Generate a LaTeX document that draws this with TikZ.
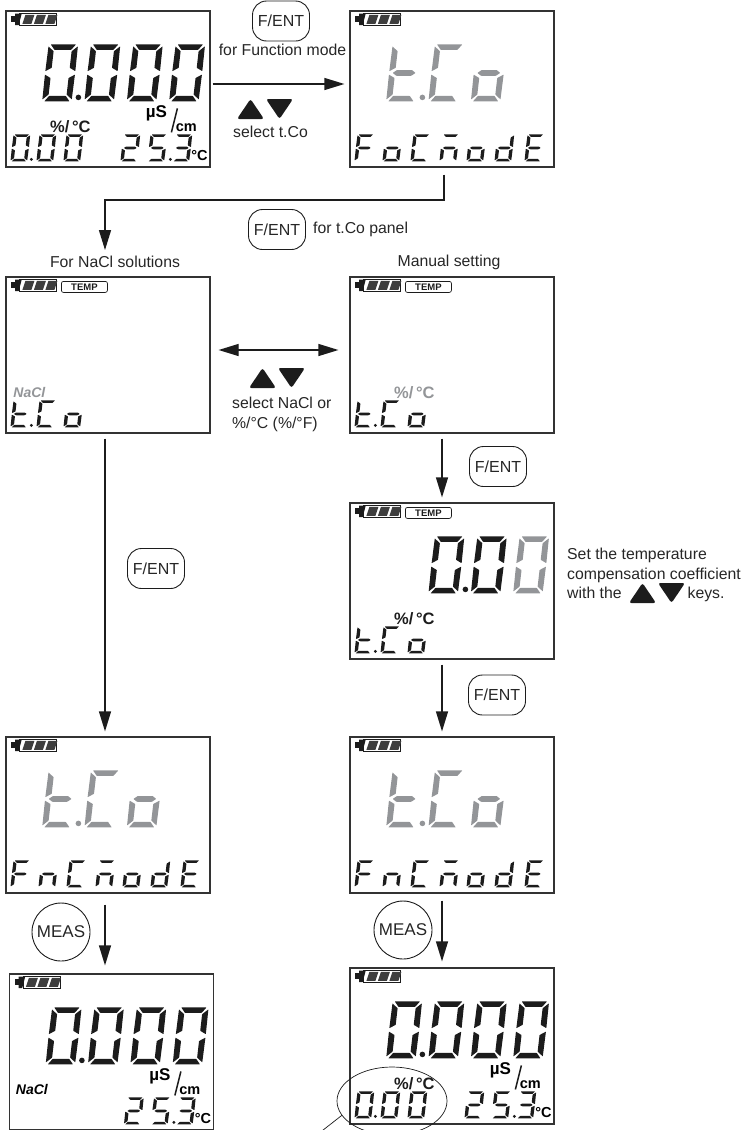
\documentclass[tikz,border=0pt]{standalone}
\usepackage{fontspec}
\setmainfont{Liberation Sans}
\usetikzlibrary{
  positioning,
  shapes.geometric,
  arrows.meta,
}
\definecolor{border}{HTML}{333333}
\definecolor{lcdOn}{HTML}{1C1C1C}
\definecolor{lcdDim}{HTML}{939598}
\definecolor{textMain}{HTML}{262626}
\tikzset{
  lcdpanel/.style={
    rectangle, draw=border, line width=1.2pt, inner sep=0pt,
    minimum width=204pt, minimum height=156pt,
  },
  tempbox/.style={
    rectangle, rounded corners=2pt, draw=lcdOn, line width=0.7pt, inner sep=0pt,
    minimum width=46pt, minimum height=11pt, text=lcdOn,
    font=\fontsize{9.5}{10}\selectfont\bfseries,
  },
  keybox/.style={
    rectangle, rounded corners=14pt, draw=lcdOn, line width=0.9pt, inner sep=0pt,
    minimum width=57pt, minimum height=40pt, text=textMain,
    font=\fontsize{16}{19}\selectfont,
  },
  meascircle/.style={
    circle, draw=lcdOn, line width=0.9pt, inner sep=0pt, minimum size=58pt,
    text=textMain, font=\fontsize{17}{19}\selectfont,
  },
  note/.style={text=textMain, inner sep=0pt, font=\fontsize{15.8}{19.5}\selectfont},
  unitlabel/.style={inner sep=0pt, font=\fontsize{#1}{#1}\selectfont\bfseries},
  unitlabel/.default=16,
  flow/.style={-{Triangle[length=20pt,width=12pt]}, lcdOn, line width=1.2pt, shorten <=5pt, shorten >=5pt},
  pics/updown/.style={code={
    \fill[lcdOn, rounded corners=2.5pt] (13.5,0) -- (27,20) -- (0,20) -- cycle;
    \fill[lcdOn, rounded corners=2.5pt] (29,0) -- (56,0) -- (42.5,20) -- cycle;
  }},
}

% segments of one digit, x 0..1 and y 0..2
\newcommand{\sega}{(.08,0) -- (.92,0) -- (.78,.19) -- (.22,.19) -- cycle}
\newcommand{\segb}{(.99,.07) -- (1,.94) -- (.80,.82) -- (.80,.24) -- cycle}
\newcommand{\segc}{(1,1.06) -- (.99,1.93) -- (.80,1.76) -- (.80,1.18) -- cycle}
\newcommand{\segd}{(.08,2) -- (.92,2) -- (.78,1.81) -- (.22,1.81) -- cycle}
\newcommand{\sege}{(0,1.06) -- (.01,1.93) -- (.20,1.76) -- (.20,1.18) -- cycle}
\newcommand{\segf}{(.01,.07) -- (0,.94) -- (.20,.82) -- (.20,.24) -- cycle}
\newcommand{\segg}{(.12,1) -- (.25,.90) -- (.75,.90) -- (.88,1) -- (.75,1.10) -- (.25,1.10) -- cycle}

\newcommand{\chzero}{a,b,c,d,e,f}
\newcommand{\chtwo}{a,b,g,e,d}
\newcommand{\chthree}{a,b,g,c,d}
\newcommand{\chfive}{a,f,g,c,d}
\newcommand{\chT}{f,e,g,d}
\newcommand{\chC}{a,f,e,d}
\newcommand{\chO}{g,c,d,e}
\newcommand{\chF}{a,f,g,e}
\newcommand{\chN}{g,c,e}
\newcommand{\chM}{a,g,c,e}
\newcommand{\chD}{b,c,d,e,g}
\newcommand{\chE}{a,f,g,e,d}

\newcommand{\lcddigit}[6]{
  \begin{scope}[shift={(#1,#2)}, xslant=0.115, xscale=#3, yscale=#4/2]
    \edef\seglist{#5}
    \foreach \s in \seglist {
      \expandafter\let\expandafter\segpath\csname seg\s\endcsname
      \fill[#6, rounded corners=0.4pt] \segpath;
    }
  \end{scope}
}
\newcommand{\bigdigit}[3][lcdOn]{\lcddigit{#2}{34}{30}{57}{#3}{#1}}
\newcommand{\lowdigit}[3][lcdOn]{\lcddigit{#2}{124}{17}{27}{#3}{#1}}

\newcommand{\lcdbattery}{
  \fill[lcdOn] (5.7,5.7) rectangle (9.7,12);
  \fill[lcdOn] (9.7,3.3) -- (16.3,3.3) -- (13.3,14.7) -- (9.7,14.7) -- cycle;
  \draw[lcdOn, line width=0.7pt] (14,3.3) rectangle (51,14.7);
  \foreach \x in {20,31.5,43} {
    \fill[lcdOn!85] (\x,4.5) -- (\x+9,4.5) -- (\x+6,13.5) -- (\x-3,13.5) -- cycle;
  }
}
% 0.000 on the big row
\newcommand{\mainreading}{
  \foreach \x in {43,85.3,127.7,170} {\bigdigit{\x}{\chzero}}
  \fill[lcdOn] (73,87) circle (2.8);
}
\newcommand{\mainword}{
  \bigdigit[lcdDim]{43}{\chT}
  \fill[lcdDim] (73,87) circle (2.8);
  \bigdigit[lcdDim]{85.3}{\chC}
  \bigdigit[lcdDim]{127.7}{\chO}
}
% 25.3 C on the low row
\newcommand{\tempreading}[1]{
  \lowdigit{118}{\chtwo}
  \lowdigit{145}{\chfive}
  \fill[lcdOn] (165,149) circle (1.6);
  \lowdigit{170}{\chthree}
  \node[unitlabel=14.5] (#1deg) at (194,145) {°C};
}
\newcommand{\lowzero}{
  \foreach \x in {8,34,61} {\lowdigit{\x}{\chzero}}
  \fill[lcdOn] (26,149) circle (1.6);
}
\newcommand{\lowword}{
  \lowdigit{8}{\chT}
  \fill[lcdOn] (26,149) circle (1.6);
  \lowdigit{34}{\chC}
  \lowdigit{61}{\chO}
}
\newcommand{\lowmode}[1]{
  \foreach \x/\dg in {8/\chF,36/#1,64/\chC,93/\chM,120/\chO,148/\chD,178/\chE} {\lowdigit{\x}{\dg}}
}
\newcommand{\msunit}[1]{
  \node[unitlabel=17] (#1ms) at (151,103) {µS};
  \node[unitlabel=14.5] (#1cm) at (181,117.5) {cm};
  \draw[lcdOn, line width=1.5pt] (172,98) -- (166,122);
}
\newcommand{\pctunit}[2][lcdOn]{
  \node[unitlabel=16.5, text=#1] (#2pct) at (65,116) {\%/\,°C};
}

\begin{document}
\begin{tikzpicture}[x=1pt, y=-1pt]
  \useasboundingbox (0,0) rectangle (749,1130);

  % Panels, top to bottom
  \node[lcdpanel] (p1) at (108,89) {};
  \begin{scope}[shift={(p1.north west)}]
    \lcdbattery
    \mainreading
    \lowzero
    \tempreading{p1}
    \msunit{p1}
    \pctunit{p1}
  \end{scope}

  \node[lcdpanel] (p2) at (452,89) {};
  \begin{scope}[shift={(p2.north west)}]
    \lcdbattery
    \mainword
    \lowmode{\chO}
  \end{scope}

  \node[lcdpanel] (p3) at (108,355) {};
  \begin{scope}[shift={(p3.north west)}]
    \lcdbattery
    \node[tempbox] (p3temp) at (79,10.5) {TEMP};
    \node[unitlabel=14, text=lcdDim] (p3salt) at (24,116) {\itshape NaCl};
    \lowword
  \end{scope}

  \node[lcdpanel] (p4) at (452,355) {};
  \begin{scope}[shift={(p4.north west)}]
    \lcdbattery
    \node[tempbox] (p4temp) at (79,10.5) {TEMP};
    \pctunit[lcdDim]{p4}
    \lowword
  \end{scope}

  \node[lcdpanel] (p5) at (452,581) {};
  \begin{scope}[shift={(p5.north west)}]
    \lcdbattery
    \node[tempbox] (p5temp) at (79,10.5) {TEMP};
    \bigdigit{85.3}{\chzero}
    \fill[lcdOn] (116,87) circle (2.8);
    \bigdigit{127.7}{\chzero}
    \bigdigit[lcdDim]{170}{\chzero}
    \pctunit{p5}
    \lowword
  \end{scope}

  \node[lcdpanel] (p6) at (108,815) {};
  \begin{scope}[shift={(p6.north west)}]
    \lcdbattery
    \mainword
    \lowmode{\chN}
  \end{scope}

  \node[lcdpanel] (p7) at (452,815) {};
  \begin{scope}[shift={(p7.north west)}]
    \lcdbattery
    \mainword
    \lowmode{\chN}
  \end{scope}

  \node[lcdpanel] (p8) at (111.5,1052) {};
  \begin{scope}[shift={(p8.north west)}]
    \lcdbattery
    \mainreading
    \tempreading{p8}
    \msunit{p8}
    \node[unitlabel=14] (p8salt) at (23,116) {\itshape NaCl};
  \end{scope}

  \node[lcdpanel] (p9) at (452,1046) {};
  \begin{scope}[shift={(p9.north west)}]
    \lcdbattery
    \mainreading
    \lowzero
    \tempreading{p9}
    \msunit{p9}
    \pctunit{p9}
  \end{scope}

  % Keys
  \node[keybox] (key1) at (281,21) {F/ENT};
  \node[keybox] (key2) at (277,229.5) {F/ENT};
  \node[keybox] (key3) at (156,568.5) {F/ENT};
  \node[keybox] (key4) at (498,466.5) {F/ENT};
  \node[keybox] (key5) at (497,695) {F/ENT};
  \node[meascircle] (meas1) at (61,932) {MEAS};
  \node[meascircle] (meas2) at (403,930) {MEAS};
  \pic at (237,99) {updown};
  \pic at (249,368) {updown};
  \pic at (629,583) {updown};

  % Texts
  \node[note] (t1) at (282.5,50) {for Function mode};
  \node[note] (t2) at (270.5,132) {select t.Co};
  \node[note, anchor=west] (t3) at (313,229) {for t.Co panel};
  \node[note] (t4) at (115,262) {For NaCl solutions};
  \node[note] (t5) at (449,262) {Manual setting};
  \node[note, align=left, anchor=north west] (t6) at (232,397) {select NaCl or\\\%/°C (\%/°F)};
  \node[note, align=left, anchor=north west] (t7) at (567,548) {Set the temperature\\compensation coefficient\\with the\hspace{66pt}keys.};

  % Connectors
  \coordinate (elbow) at (105,200);
  \coordinate (capin) at (105,255);
  \draw[flow, shorten <=2pt] ([yshift=5pt]p1.east) -- ([yshift=5pt]p2.west);
  \draw[flow, line width=1.5pt, shorten <=7pt] ([xshift=-8pt]p2.south) |- (elbow) -- (capin);
  \draw[flow, {Triangle[length=20pt,width=12pt]}-{Triangle[length=20pt,width=12pt]}, shorten <=8pt, shorten >=11pt] ([yshift=5pt]p3.east) -- ([yshift=5pt]p4.west);
  \draw[flow] ([xshift=-3pt]p3.south) -- ([xshift=-3pt]p6.north);
  \draw[flow] ([xshift=-10pt]p4.south) -- ([xshift=-10pt]p5.north);
  \draw[flow] ([xshift=-10pt]p5.south) -- ([xshift=-10pt]p7.north);
  \draw[flow, shorten <=11pt, shorten >=8pt] ([xshift=-3pt]p6.south) -- ([xshift=-6.5pt]p8.north);
  \draw[flow, shorten <=7pt, shorten >=6pt] ([xshift=-10pt]p7.south) -- ([xshift=-10pt]p9.north);

  % Callout round the coefficient
  \node[ellipse, draw=lcdOn, line width=0.7pt, minimum width=110pt, minimum height=68pt, inner sep=0pt] (oval) at (392,1101) {};
  \coordinate (leaderend) at (318,1134);
  \draw[lcdOn, line width=0.7pt] (oval.196) -- (leaderend);

\end{tikzpicture}
\end{document}
